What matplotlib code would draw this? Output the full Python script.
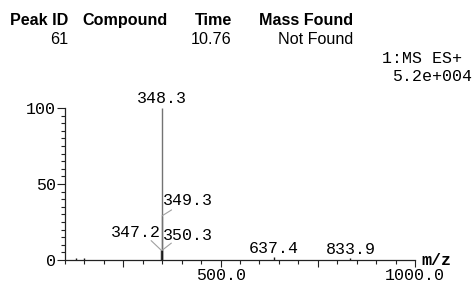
import matplotlib
matplotlib.use("Agg")
import matplotlib.pyplot as plt
from matplotlib.ticker import FixedLocator, MultipleLocator

# header table
header_cols = ["Peak ID", "Compound", "Time", "Mass Found"]
header_vals = ["61", "", "10.76", "Not Found"]
trace_name = "1:MS ES+"
trace_max = "5.2e+004"

# spectrum peaks (m/z, relative intensity %)
mz = [128.0, 149.0, 347.2, 348.3, 349.3, 350.3, 637.4, 833.9]
intensity = [1.5, 1.0, 6.5, 100.0, 29.0, 6.5, 2.0, 1.5]
labelled = ["347.2", "348.3", "349.3", "350.3", "637.4", "833.9"]

x_major = [250, 500, 750, 1000]
x_major_labels = ["", "500.0", "", "1000.0"]
y_major = [0, 50, 100]

W, H = 475, 285
DPI = 100
mono = "Liberation Mono"
sans = "Liberation Sans"


def fx(px):
    return px / W


def fy(py):
    return 1 - py / H


fig = plt.figure(figsize=(W / DPI, H / DPI), dpi=DPI)

# header: right aligned columns except "Compound"
col_x = [68, 82, 232, 353]
col_ha = ["right", "left", "right", "right"]
for name, val, x, ha in zip(header_cols, header_vals, col_x, col_ha):
    fig.text(fx(x), fy(25), name, ha=ha, va="baseline", family=sans,
             weight="bold", fontsize=11.6)
    fig.text(fx(x), fy(44), val, ha=ha, va="baseline", family=sans,
             fontsize=11.6)

fig.text(fx(462), fy(63), trace_name, ha="right", va="baseline",
         family=mono, fontsize=12)
fig.text(fx(472), fy(81), trace_max, ha="right", va="baseline",
         family=mono, fontsize=12)

ax = fig.add_axes([fx(65), fy(260), fx(415 - 65), (260 - 108) / H])
ax.set_xlim(100, 1000)
ax.set_ylim(0, 100)
for s in ["top", "right"]:
    ax.spines[s].set_visible(False)
for s in ["left", "bottom"]:
    ax.spines[s].set_color("#222222")
    ax.spines[s].set_linewidth(0.9)

# tall peaks look grey in the reference, the short ones nearly black
peak_cols = ["0.45" if v > 20 else "0.1" for v in intensity]
ax.vlines(mz, 0, intensity, colors=peak_cols, linewidth=1.0)

# peak labels: (text offset px, ha, leader end offset px or None)
layout = {
    "348.3": ((0, 5), "center", None),
    "349.3": ((0.6, 10.5), "left", (9.6, 6)),
    "350.3": ((0.5, 10), "left", (9, 7)),
    "347.2": ((0, 13), "right", (-10, 9.5)),
    "637.4": ((0, 4), "center", None),
    "833.9": ((0, 4), "center", None),
}
for m, inten in zip(mz, intensity):
    key = "%.1f" % m
    if key not in labelled:
        continue
    (tx, ty), ha, lead = layout[key]
    ax.annotate(key, xy=(m, inten), xytext=(tx, ty), textcoords="offset pixels",
                ha=ha, va="baseline", family=mono, fontsize=12)
    if lead is not None:
        ax.annotate("", xy=(m, inten), xytext=lead, textcoords="offset pixels",
                    arrowprops=dict(arrowstyle="-", color="#a0a0a0", lw=0.8,
                                    shrinkA=0, shrinkB=0))

ax.xaxis.set_major_locator(FixedLocator(x_major))
ax.set_xticklabels(x_major_labels)
ax.xaxis.set_minor_locator(MultipleLocator(50))
ax.yaxis.set_major_locator(FixedLocator(y_major))
ax.yaxis.set_minor_locator(MultipleLocator(5))

ax.tick_params(axis="x", which="major", length=5, width=0.8, pad=1.0,
               color="#222222")
ax.tick_params(axis="x", which="minor", length=3, width=0.8, color="#222222")
ax.tick_params(axis="y", which="major", length=5.8, width=0.8, pad=0.5,
               color="#222222")
ax.tick_params(axis="y", which="minor", length=2.9, width=0.8, color="#222222")
for lab in ax.get_xticklabels() + ax.get_yticklabels():
    lab.set_family(mono)
    lab.set_fontsize(12)

fig.text(fx(421), fy(265), "m/z", ha="left", va="baseline", family=mono,
         weight="bold", fontsize=12)

fig.savefig("out.png", dpi=DPI, facecolor="white")
